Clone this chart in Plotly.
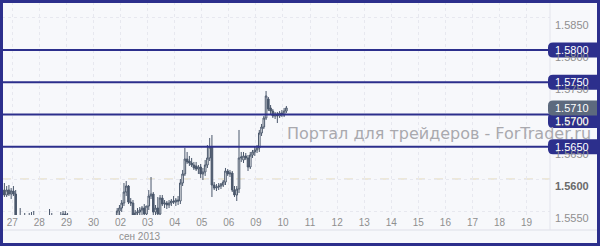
import plotly.graph_objects as go

# ---------------- data ----------------
# 2-hour GBP/USD candles, first bar = 26 Aug 14:00, last bar = 10 Sep 02:00
session_days = ["26", "27", "28", "29", "30", "02", "03", "04", "05", "06", "09", "10"]
first_bar_index = 7          # 14:00 bar of the first session
bars_per_day = 12

open_ = [
    1.55752, 1.55829, 1.55752, 1.55829, 1.55767,
    1.55814, 1.55767, 1.55209, 1.55116, 1.55287, 1.55240, 1.55333, 1.55271, 1.55395, 1.55333, 1.55364, 1.55240,
    1.55132, 1.55054, 1.54992, 1.55085, 1.55209, 1.55302, 1.55271, 1.55178, 1.55116, 1.55240, 1.55333, 1.55457,
    1.55364, 1.55287, 1.55178, 1.55116, 1.55023, 1.55085, 1.54992, 1.54899, 1.54806, 1.54713, 1.54837, 1.54899,
    1.54868, 1.54775, 1.54744, 1.54868, 1.54961, 1.55054, 1.55116, 1.54992, 1.55085, 1.55147, 1.55302, 1.55504,
    1.55550, 1.55628, 1.55798, 1.55891, 1.55643, 1.55628, 1.55442, 1.55473, 1.55488, 1.55519, 1.55550, 1.55457,
    1.55581, 1.55736, 1.55767, 1.55488, 1.55550, 1.55457, 1.55705, 1.55612, 1.55628, 1.55597, 1.55628, 1.55659,
    1.55643, 1.55674, 1.55659, 1.55938, 1.56078, 1.56310, 1.56279, 1.56248, 1.56217, 1.56202, 1.56155, 1.56186,
    1.56078, 1.56109, 1.56217, 1.56326, 1.56496, 1.55907, 1.55860, 1.55876, 1.55891, 1.55907, 1.55953, 1.56124,
    1.56078, 1.56093, 1.55829, 1.55752, 1.55845, 1.56326, 1.56295, 1.56357, 1.56326, 1.56186, 1.56372, 1.56419,
    1.56450, 1.56481, 1.56713, 1.56806, 1.56946, 1.57240, 1.57101, 1.57054, 1.56977, 1.57008, 1.56977, 1.57023,
    1.56992, 1.57054,
]
high = [
    1.55907, 1.55938, 1.55891, 1.55907, 1.55860,
    1.55891, 1.55829, 1.55333, 1.55550, 1.55395, 1.55473, 1.55426, 1.55473, 1.55488, 1.55504, 1.55411, 1.55364,
    1.55271, 1.55209, 1.55178, 1.55333, 1.55535, 1.55473, 1.55364, 1.55302, 1.55333, 1.55488, 1.55504, 1.55504,
    1.55473, 1.55364, 1.55287, 1.55240, 1.55178, 1.55271, 1.55132, 1.55054, 1.54961, 1.54899, 1.54992, 1.55023,
    1.54992, 1.54899, 1.54930, 1.55054, 1.55116, 1.55209, 1.55240, 1.55178, 1.55240, 1.55271, 1.55550, 1.55597,
    1.55674, 1.55938, 1.55969, 1.55907, 1.55705, 1.55674, 1.55519, 1.55550, 1.55566, 1.55581, 1.55612, 1.55581,
    1.55829, 1.56031, 1.55798, 1.55597, 1.55721, 1.55752, 1.55752, 1.55674, 1.55659, 1.55674, 1.55690, 1.55736,
    1.55705, 1.55736, 1.56000, 1.56140, 1.56481, 1.56419, 1.56357, 1.56326, 1.56264, 1.56264, 1.56217, 1.56233,
    1.56171, 1.56295, 1.56527, 1.56636, 1.56682, 1.55953, 1.55922, 1.55938, 1.55938, 1.55984, 1.56171, 1.56155,
    1.56140, 1.56124, 1.55891, 1.55891, 1.56760, 1.56419, 1.56419, 1.56403, 1.56372, 1.56419, 1.56450, 1.56496,
    1.56527, 1.56760, 1.56853, 1.56977, 1.57364, 1.57271, 1.57147, 1.57085, 1.57039, 1.57039, 1.57054, 1.57070,
    1.57101, 1.57132,
]
low = [
    1.55674, 1.55721, 1.55721, 1.55736, 1.55690,
    1.55736, 1.55132, 1.55054, 1.55054, 1.55178, 1.55147, 1.55209, 1.55209, 1.55271, 1.55240, 1.55178, 1.55054,
    1.54977, 1.54899, 1.54899, 1.55023, 1.55147, 1.55209, 1.55116, 1.55054, 1.55054, 1.55178, 1.55271, 1.55302,
    1.55240, 1.55132, 1.55054, 1.54977, 1.54899, 1.54961, 1.54806, 1.54713, 1.54589, 1.54620, 1.54713, 1.54775,
    1.54713, 1.54651, 1.54682, 1.54775, 1.54868, 1.54930, 1.54899, 1.54868, 1.54992, 1.55054, 1.55271, 1.55442,
    1.55488, 1.55581, 1.55736, 1.55612, 1.55581, 1.55395, 1.55364, 1.55395, 1.55426, 1.55442, 1.55426, 1.55395,
    1.55519, 1.55690, 1.55426, 1.55395, 1.55426, 1.55426, 1.55581, 1.55550, 1.55535, 1.55550, 1.55581, 1.55612,
    1.55581, 1.55597, 1.55612, 1.55891, 1.56047, 1.56233, 1.56202, 1.56186, 1.56140, 1.56124, 1.56078, 1.56016,
    1.55984, 1.56047, 1.56171, 1.56279, 1.55721, 1.55829, 1.55814, 1.55829, 1.55845, 1.55876, 1.55907, 1.56047,
    1.56031, 1.55798, 1.55721, 1.55659, 1.55783, 1.56264, 1.56248, 1.56295, 1.56124, 1.56155, 1.56326, 1.56357,
    1.56403, 1.56419, 1.56667, 1.56775, 1.56915, 1.57054, 1.57008, 1.56946, 1.56930, 1.56868, 1.56946, 1.56961,
    1.56961, 1.57023,
]
close = [
    1.55829, 1.55752, 1.55829, 1.55767, 1.55814,
    1.55767, 1.55209, 1.55116, 1.55287, 1.55240, 1.55333, 1.55271, 1.55395, 1.55333, 1.55364, 1.55240, 1.55132,
    1.55054, 1.54992, 1.55085, 1.55209, 1.55302, 1.55271, 1.55178, 1.55116, 1.55240, 1.55364, 1.55457, 1.55364,
    1.55287, 1.55178, 1.55116, 1.55023, 1.55085, 1.54992, 1.54899, 1.54806, 1.54713, 1.54837, 1.54899, 1.54868,
    1.54775, 1.54744, 1.54868, 1.54961, 1.55054, 1.55116, 1.54992, 1.55085, 1.55147, 1.55209, 1.55504, 1.55550,
    1.55628, 1.55798, 1.55891, 1.55643, 1.55628, 1.55442, 1.55473, 1.55488, 1.55519, 1.55550, 1.55457, 1.55581,
    1.55736, 1.55767, 1.55488, 1.55550, 1.55457, 1.55705, 1.55612, 1.55628, 1.55597, 1.55628, 1.55659, 1.55643,
    1.55674, 1.55659, 1.55938, 1.56078, 1.56310, 1.56264, 1.56248, 1.56217, 1.56171, 1.56155, 1.56186, 1.56078,
    1.56109, 1.56217, 1.56326, 1.56496, 1.55907, 1.55860, 1.55876, 1.55891, 1.55922, 1.55953, 1.56124, 1.56078,
    1.56093, 1.55829, 1.55752, 1.55845, 1.56326, 1.56341, 1.56357, 1.56326, 1.56186, 1.56372, 1.56419, 1.56450,
    1.56481, 1.56713, 1.56806, 1.56946, 1.57287, 1.57085, 1.57054, 1.56977, 1.57008, 1.56977, 1.57023, 1.56992,
    1.57054, 1.57101,
]

# axis calendar: every label gets one equally wide slot
axis_days = ["26", "27", "28", "29", "30", "02", "03", "04", "05", "06", "09", "10",
             "11", "12", "13", "14", "15", "16", "17", "18", "19"]
shown_day_labels = axis_days[1:]
month_label = "сен 2013"

levels = [1.5800, 1.5750, 1.5700, 1.5650]
price_ticks = [1.5850, 1.5800, 1.5750, 1.5700, 1.5650, 1.5600, 1.5550]
dashed_level = 1.5600
watermark = "Портал для трейдеров - ForTrader.ru"

# ---------------- build ----------------
slot_of = {d: i - 1 for i, d in enumerate(axis_days)}
xs = []
for j in range(len(close)):
    s = first_bar_index + j
    day = session_days[s // bars_per_day]
    k = s % bars_per_day
    xs.append(slot_of[day] + (k + 0.5) / bars_per_day)

W, H = 600, 246
ML, MR, MT, MB = 2, 50, 2, 31
PW, PH = W - ML - MR, H - MT - MB

NAVY = "#2c2f8c"
CANDLE = "#4b586c"
BG = "#f7f8fb"

fig = go.Figure()
fig.add_trace(go.Candlestick(
    x=xs, open=open_, high=high, low=low, close=close,
    increasing=dict(line=dict(color=CANDLE, width=1), fillcolor="#ffffff"),
    decreasing=dict(line=dict(color=CANDLE, width=1), fillcolor=CANDLE),
    whiskerwidth=0, hoverinfo="skip", showlegend=False,
))

def px_to_paper_x(px):
    return (px - ML) / PW

def py_to_paper_y(py):
    return (MT + PH - py) / PH

shapes = []
# dashed level
shapes.append(dict(type="line", xref="paper", x0=0, x1=1, yref="y", y0=dashed_level, y1=dashed_level,
                   line=dict(color="#e2d8b8", width=1, dash="dash"), layer="below"))
# horizontal support / resistance lines
for lv in levels:
    shapes.append(dict(type="line", xref="paper", x0=0, x1=1, yref="y", y0=lv, y1=lv,
                       line=dict(color=NAVY, width=2), layer="above"))
# separators of the axis area
shapes.append(dict(type="line", xref="paper", yref="paper",
                   x0=px_to_paper_x(2), x1=px_to_paper_x(598), y0=py_to_paper_y(230), y1=py_to_paper_y(230),
                   line=dict(color="#dedfe8", width=1)))
shapes.append(dict(type="line", xref="paper", yref="paper",
                   x0=1, x1=1, y0=py_to_paper_y(230), y1=py_to_paper_y(2),
                   line=dict(color="#e3e4ec", width=1)))

annotations = []
annotations.append(dict(text=watermark, xref="paper", yref="paper",
                        x=px_to_paper_x(285), y=py_to_paper_y(133), xanchor="left", yanchor="middle",
                        showarrow=False, font=dict(family="DejaVu Sans", size=16, color="#a9a9ae")))

# grey price labels (drawn just below their grid line)
label_x = px_to_paper_x(572)
for v in price_ticks:
    bold = abs(v - dashed_level) < 1e-9
    annotations.append(dict(text=f"<b>{v:.4f}</b>" if bold else f"{v:.4f}", xref="paper", yref="y",
                            x=label_x, y=v, yshift=-7, xanchor="center", yanchor="middle",
                            showarrow=False,
                            font=dict(family="Liberation Sans", size=11,
                                      color="#6a6a6a" if bold else "#8f8f8f")))

def add_tag(value, text, color, yshift=0):
    h = 7.5
    y0, y1 = yshift - h, yshift + h
    path = (f"M 3,{y0} L 47,{y0} L 47,{y1} L 3,{y1} Q -2,{y1} -2,{y1-5} "
            f"L -2,{y0+5} Q -2,{y0} 3,{y0} Z")
    shapes.append(dict(type="path", xref="paper", xsizemode="pixel", xanchor=1,
                       yref="y", ysizemode="pixel", yanchor=value, path=path,
                       fillcolor=color, line=dict(width=0), layer="above"))
    annotations.append(dict(text=text, xref="paper", yref="y", x=label_x, y=value, yshift=yshift,
                            xanchor="center", yanchor="middle", showarrow=False,
                            font=dict(family="Liberation Sans", size=11, color="#ffffff")))

for lv in levels:
    add_tag(lv, f"{lv:.4f}", NAVY, yshift=-6 if abs(lv - 1.5700) < 1e-9 else 0)
add_tag(close[-1], f"{close[-1]:.4f}", "#5d6a7e")

annotations.append(dict(text=month_label, xref="x", yref="paper", x=slot_of["02"], xshift=-4,
                        y=py_to_paper_y(236), xanchor="left", yanchor="middle", showarrow=False,
                        font=dict(family="Liberation Sans", size=10, color="#8f8f8f")))

# outer frame
shapes.append(dict(type="rect", xref="paper", yref="paper",
                   x0=px_to_paper_x(1.5), x1=px_to_paper_x(598.5),
                   y0=py_to_paper_y(244.5), y1=py_to_paper_y(1.5),
                   line=dict(color=NAVY, width=3), layer="above"))

fig.update_layout(
    width=W, height=H, margin=dict(l=ML, r=MR, t=MT, b=MB, pad=0),
    paper_bgcolor=BG, plot_bgcolor=BG, boxgap=0.0,
    shapes=shapes, annotations=annotations, showlegend=False,
    xaxis=dict(range=[-0.3805, 19.864], tickmode="array",
               tickvals=[slot_of[d] for d in shown_day_labels], ticktext=shown_day_labels,
               showgrid=True, gridcolor="#e7e8ef", griddash="dot", gridwidth=1,
               zeroline=False, showline=False, ticks="", rangeslider=dict(visible=False),
               tickfont=dict(family="Liberation Sans", size=10, color="#8f8f8f")),
    yaxis=dict(range=[1.554419, 1.587442], tickmode="array", tickvals=price_ticks,
               showticklabels=False, showgrid=True, gridcolor="#e7e8ef", griddash="dot",
               zeroline=False, showline=False, ticks=""),
    hovermode=False,
)

fig.write_html("out.html")
